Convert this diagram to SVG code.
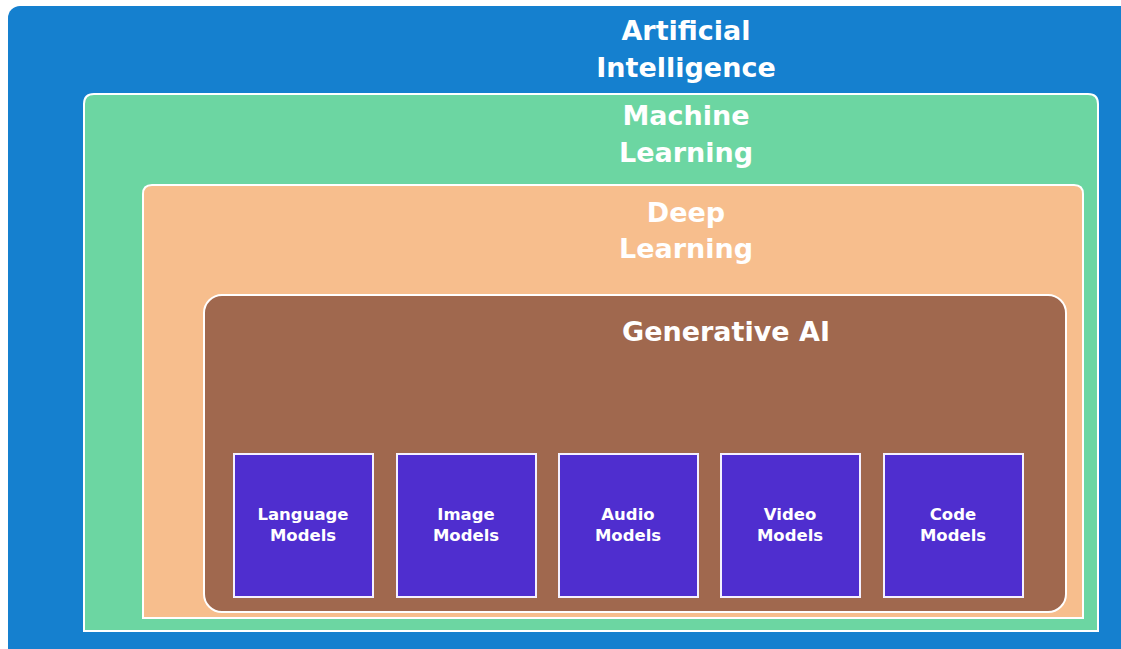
<svg xmlns="http://www.w3.org/2000/svg" width="1121" height="649" viewBox="0 0 1121 649">
  <style>
    .title { font-family: "DejaVu Sans", Inter, sans-serif; font-weight: 700; font-size: 27px; fill: #ffffff; text-anchor: middle; }
    .box { fill: #4f2ecf; stroke: #f4f0ff; stroke-width: 2; }
    .label { font-family: "DejaVu Sans", Inter, sans-serif; font-weight: 700; font-size: 16.5px; fill: #ffffff; text-anchor: middle; }
    .frame { stroke: #ffffff; stroke-width: 2; }
  </style>
  <rect width="1121" height="649" fill="#ffffff"/>

  <g id="ai">
    <rect x="8" y="6" width="1130" height="670" rx="12" fill="#1580cf"/>
    <text class="title" x="686" y="40">Artificial</text>
    <text class="title" x="686" y="77">Intelligence</text>
  </g>

  <g id="ml">
    <path class="frame" d="M84 631 V104 Q84 94 94 94 H1088 Q1098 94 1098 104 V631 Z" fill="#6cd6a2"/>
    <text class="title" x="686" y="125">Machine</text>
    <text class="title" x="686" y="162">Learning</text>
  </g>

  <g id="dl">
    <path class="frame" d="M143 618 V194 Q143 185 152 185 H1074 Q1083 185 1083 194 V618 Z" fill="#f7be8d"/>
    <text class="title" x="686" y="222">Deep</text>
    <text class="title" x="686" y="258">Learning</text>
  </g>

  <g id="genai">
    <rect class="frame" x="204" y="295" width="862" height="317" rx="18" fill="#a0684e"/>
    <text class="title" x="726" y="341">Generative AI</text>
  </g>

  <g id="language-models">
    <rect class="box" x="234" y="454" width="139" height="143"/>
    <text class="label" x="303" y="520">Language</text>
    <text class="label" x="303" y="541">Models</text>
  </g>
  <g id="image-models">
    <rect class="box" x="397" y="454" width="139" height="143"/>
    <text class="label" x="466" y="520">Image</text>
    <text class="label" x="466" y="541">Models</text>
  </g>
  <g id="audio-models">
    <rect class="box" x="559" y="454" width="139" height="143"/>
    <text class="label" x="628" y="520">Audio</text>
    <text class="label" x="628" y="541">Models</text>
  </g>
  <g id="video-models">
    <rect class="box" x="721" y="454" width="139" height="143"/>
    <text class="label" x="790" y="520">Video</text>
    <text class="label" x="790" y="541">Models</text>
  </g>
  <g id="code-models">
    <rect class="box" x="884" y="454" width="139" height="143"/>
    <text class="label" x="953" y="520">Code</text>
    <text class="label" x="953" y="541">Models</text>
  </g>

  <g id="connectors"/>
</svg>
